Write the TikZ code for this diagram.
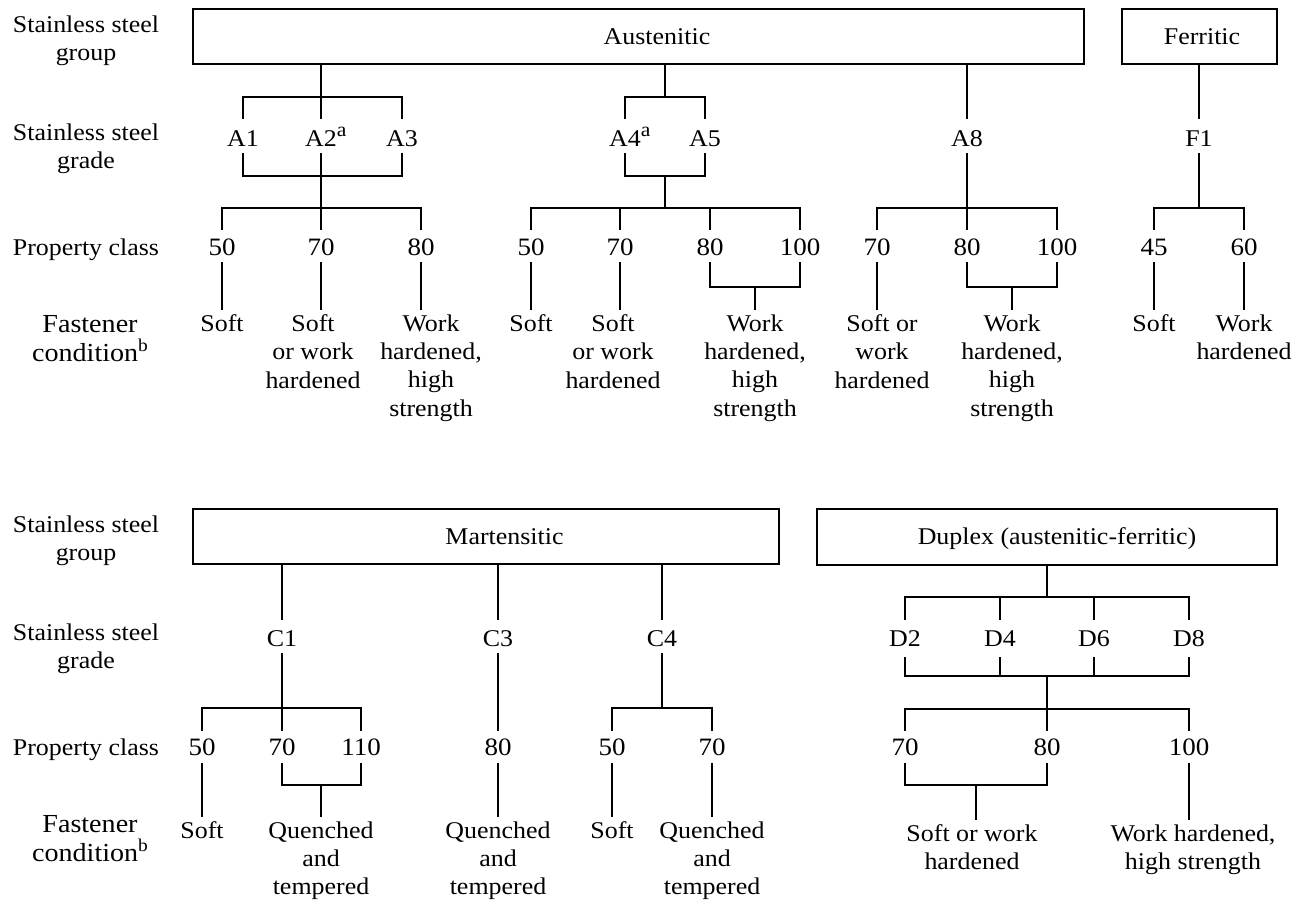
\documentclass[tikz,border=0pt]{standalone}
\usepackage{fontspec}
\setmainfont[FakeStretch=1.08]{Liberation Serif}
\newcommand{\supa}{\rlap{\raisebox{10.5pt}{\fontsize{20}{20}\selectfont a}}}
\newcommand{\supb}{\raisebox{9.5pt}{\fontsize{18}{18}\selectfont b}}
\begin{document}
\begin{tikzpicture}[x=1pt,y=-1pt,
  every node/.style={inner sep=0pt, font=\fontsize{24}{28.3}\selectfont},
  grp/.style={draw, line width=2.2pt, minimum height=55pt, inner sep=0pt, text height=15.5pt, text depth=0pt},
  conn/.style={line width=1.3pt},
  gr/.style={anchor=base, text height=23pt, text depth=2.5pt, inner ysep=4pt, inner xsep=2pt},
  pc/.style={anchor=base, font=\fontsize{25}{28}\selectfont, text height=21pt, text depth=3pt, inner ysep=4pt, inner xsep=2pt},
  fc/.style={anchor=north, align=center, inner ysep=4.5pt},
  rowlbl/.style={align=center, anchor=north},
  fastlbl/.style={align=center, anchor=north, font=\fontsize{26}{29}\selectfont},
]
\useasboundingbox (0,0) rectangle (1311,904);

% ---------- row labels ----------
\node[rowlbl] (lg1) at (86,15.3) {Stainless steel\\group};
\node[rowlbl] (lr1) at (86,123.6) {Stainless steel\\grade};
\node[anchor=base] (lp1) at (86,255) {Property class};
\node[fastlbl] (lf1) at (90,315) {Fastener\\condition\supb};
\node[rowlbl] (lg2) at (86,515.3) {Stainless steel\\group};
\node[rowlbl] (lr2) at (86,623.6) {Stainless steel\\grade};
\node[anchor=base] (lp2) at (86,755.7) {Property class};
\node[fastlbl] (lf2) at (90,815) {Fastener\\condition\supb};

% ---------- group boxes ----------
\node[grp, minimum width=891pt] (aus) at (638.5,36.5) {\hspace*{37pt}Austenitic};
\node[grp, minimum width=155pt] (fer) at (1199.5,36.5) {\hspace*{5pt}Ferritic};
\node[grp, minimum width=586pt] (mar) at (486,536.5) {\hspace*{37pt}Martensitic};
\node[grp, minimum width=460pt, minimum height=56pt] (dup) at (1047,537) {\hspace*{20pt}Duplex (austenitic-ferritic)};

% ---------- Austenitic A1 A2 A3 ----------
\node[gr] (A1) at (243,146.7) {A1};
\node[gr] (A2) at (321,146.7) {A2\supa};
\node[gr] (A3) at (402,146.7) {A3};
\coordinate (j1) at (321,97);
\coordinate (k1) at (321,176);
\coordinate (m1) at (321,208);
\draw[conn] (aus.south -| j1) -- (j1);
\draw[conn] (A1.north) |- (j1) -| (A3.north);
\draw[conn] (j1) -- (A2.north);
\draw[conn] (A1.south) |- (k1) -| (A3.south);
\draw[conn] (A2.south) -- (m1);
\node[pc] (P1a) at (222,255) {50};
\node[pc] (P1b) at (321,255) {70};
\node[pc] (P1c) at (421,255) {80};
\draw[conn] (P1a.north) |- (m1) -| (P1c.north);
\draw[conn] (m1) -- (P1b.north);
\node[fc] (c1a) at (222,310) {Soft};
\node[fc] (c1b) at (313,310) {Soft\\or work\\hardened};
\node[fc] (c1c) at (431,310) {Work\\hardened,\\high\\strength};
\draw[conn] (P1a.south) -- (c1a.north);
\draw[conn] (P1b.south) -- (P1b.south |- c1b.north);
\draw[conn] (P1c.south) -- (P1c.south |- c1c.north);

% ---------- Austenitic A4 A5 ----------
\node[gr] (A4) at (625,146.7) {A4\supa};
\node[gr] (A5) at (705,146.7) {A5};
\coordinate (j2) at (665,97);
\coordinate (k2) at (665,176);
\coordinate (m2) at (665,208);
\draw[conn] (aus.south -| j2) -- (j2);
\draw[conn] (A4.north) |- (j2) -| (A5.north);
\draw[conn] (A4.south) |- (k2) -| (A5.south);
\draw[conn] (k2) -- (m2);
\node[pc] (P2a) at (531,255) {50};
\node[pc] (P2b) at (620,255) {70};
\node[pc] (P2c) at (710,255) {80};
\node[pc] (P2d) at (800,255) {100};
\draw[conn] (P2a.north) |- (m2) -| (P2d.north);
\draw[conn] (P2b.north) -- (P2b.north |- m2);
\draw[conn] (P2c.north) -- (P2c.north |- m2);
\coordinate (n2) at (755,287);
\node[fc] (c2a) at (531,310) {Soft};
\node[fc] (c2b) at (613,310) {Soft\\or work\\hardened};
\node[fc] (c2c) at (755,310) {Work\\hardened,\\high\\strength};
\draw[conn] (P2a.south) -- (c2a.north);
\draw[conn] (P2b.south) -- (P2b.south |- c2b.north);
\draw[conn] (P2c.south) |- (n2) -| (P2d.south);
\draw[conn] (n2) -- (c2c.north);

% ---------- Austenitic A8 ----------
\node[gr] (A8) at (967,146.7) {A8};
\coordinate (m3) at (967,208);
\draw[conn] (aus.south -| A8) -- (A8.north);
\draw[conn] (A8.south) -- (m3);
\node[pc] (P3a) at (877,255) {70};
\node[pc] (P3b) at (967,255) {80};
\node[pc] (P3c) at (1057,255) {100};
\draw[conn] (P3a.north) |- (m3) -| (P3c.north);
\draw[conn] (m3) -- (P3b.north);
\coordinate (n3) at (1012,287);
\node[fc] (c3a) at (882,310) {Soft or\\work\\hardened};
\node[fc] (c3b) at (1012,310) {Work\\hardened,\\high\\strength};
\draw[conn] (P3a.south) -- (P3a.south |- c3a.north);
\draw[conn] (P3b.south) |- (n3) -| (P3c.south);
\draw[conn] (n3) -- (c3b.north);

% ---------- Ferritic F1 ----------
\node[gr] (gF1) at (1199,146.7) {F1};
\coordinate (m4) at (1199,208);
\draw[conn] (fer.south -| gF1) -- (gF1.north);
\draw[conn] (gF1.south) -- (m4);
\node[pc] (P4a) at (1154,255) {45};
\node[pc] (P4b) at (1244,255) {60};
\draw[conn] (P4a.north) |- (m4) -| (P4b.north);
\node[fc] (c4a) at (1154,310) {Soft};
\node[fc] (c4b) at (1244,310) {Work\\hardened};
\draw[conn] (P4a.south) -- (c4a.north);
\draw[conn] (P4b.south) -- (c4b.north);

% ---------- Martensitic ----------
\node[gr] (C1) at (282,646.7) {C1};
\node[gr] (C3) at (498,646.7) {C3};
\node[gr] (C4) at (662,646.7) {C4};
\draw[conn] (mar.south -| C1) -- (C1.north);
\draw[conn] (mar.south -| C3) -- (C3.north);
\draw[conn] (mar.south -| C4) -- (C4.north);
% C1
\coordinate (m5) at (282,708);
\draw[conn] (C1.south) -- (m5);
\node[pc] (Q1a) at (202,755.7) {50};
\node[pc] (Q1b) at (282,755.7) {70};
\node[pc] (Q1c) at (361,755.7) {110};
\draw[conn] (Q1a.north) |- (m5) -| (Q1c.north);
\draw[conn] (m5) -- (Q1b.north);
\coordinate (n5) at (321,785);
\node[fc] (d1a) at (202,817) {Soft};
\node[fc] (d1b) at (321,817) {Quenched\\and\\tempered};
\draw[conn] (Q1a.south) -- (d1a.north);
\draw[conn] (Q1b.south) |- (n5) -| (Q1c.south);
\draw[conn] (n5) -- (d1b.north);
% C3
\node[pc] (Q2) at (498,755.7) {80};
\draw[conn] (C3.south) -- (Q2.north);
\node[fc] (d2) at (498,817) {Quenched\\and\\tempered};
\draw[conn] (Q2.south) -- (d2.north);
% C4
\coordinate (m6) at (662,708);
\draw[conn] (C4.south) -- (m6);
\node[pc] (Q3a) at (612,755.7) {50};
\node[pc] (Q3b) at (712,755.7) {70};
\draw[conn] (Q3a.north) |- (m6) -| (Q3b.north);
\node[fc] (d3a) at (612,817) {Soft};
\node[fc] (d3b) at (712,817) {Quenched\\and\\tempered};
\draw[conn] (Q3a.south) -- (d3a.north);
\draw[conn] (Q3b.south) -- (d3b.north);

% ---------- Duplex ----------
\node[gr, text depth=6.5pt] (D2) at (905,646.7) {D2};
\node[gr, text depth=6.5pt] (D4) at (1000,646.7) {D4};
\node[gr, text depth=6.5pt] (D6) at (1094,646.7) {D6};
\node[gr, text depth=6.5pt] (D8) at (1189,646.7) {D8};
\coordinate (j7) at (1047,597);
\coordinate (k7) at (1047,676);
\coordinate (m7) at (1047,709);
\draw[conn] (dup.south -| j7) -- (j7);
\draw[conn] (D2.north) |- (j7) -| (D8.north);
\draw[conn] (D4.north) -- (D4.north |- j7);
\draw[conn] (D6.north) -- (D6.north |- j7);
\draw[conn] (D2.south) |- (k7) -| (D8.south);
\draw[conn] (D4.south) -- (D4.south |- k7);
\draw[conn] (D6.south) -- (D6.south |- k7);
\draw[conn] (k7) -- (m7);
\node[pc] (Q4a) at (905,755.7) {70};
\node[pc] (Q4b) at (1047,755.7) {80};
\node[pc] (Q4c) at (1189,755.7) {100};
\draw[conn] (Q4a.north) |- (m7) -| (Q4c.north);
\draw[conn] (m7) -- (Q4b.north);
\coordinate (n7) at (976,785);
\node[fc] (d4a) at (972,820) {Soft or work\\hardened};
\node[fc] (d4b) at (1193,820) {Work hardened,\\high strength};
\draw[conn] (Q4a.south) |- (n7) -| (Q4b.south);
\draw[conn] (n7) -- (n7 |- d4a.north);
\draw[conn] (Q4c.south) -- (Q4c.south |- d4b.north);
\end{tikzpicture}
\end{document}
